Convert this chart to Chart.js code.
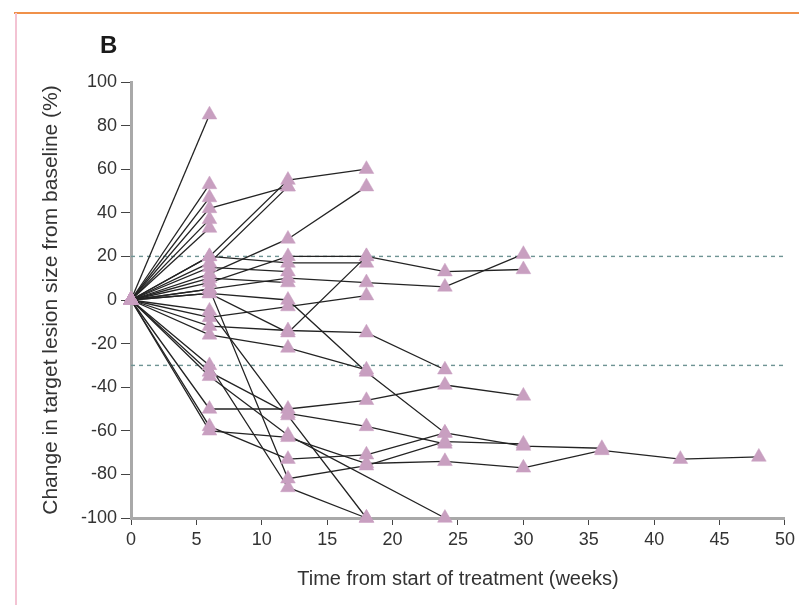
<!DOCTYPE html>
<html>
<head>
<meta charset="utf-8">
<script src="https://cdn.jsdelivr.net/npm/chart.js@4.4.1/dist/chart.umd.min.js"></script>
<style>
  html, body { margin: 0; padding: 0; background: #ffffff; }
  #wrap { position: relative; width: 799px; height: 605px; overflow: hidden; background: #fff; }
  #chart { position: absolute; left: 0; top: 0; }
  #topline { position: absolute; left: 14px; top: 12px; width: 785px; height: 2px; background: #f0914a; }
  #leftline { position: absolute; left: 15px; top: 13px; width: 2px; height: 592px; background: #f3c3d3; }
  #panel { position: absolute; left: 100px; top: 31px; font: bold 24px "Liberation Sans", Arial, sans-serif; color: #1a1a1a; }
</style>
</head>
<body>
<div id="wrap">
  <div id="topline"></div>
  <div id="leftline"></div>
  <canvas id="chart" width="799" height="605"></canvas>
  <div id="panel">B</div>
</div>
<script>
// Assessment weeks (x positions of consecutive values in each patient's series)
const weeks = [0, 6, 12, 18, 24, 30, 36, 42, 48];

// Change in target lesion size (%) per patient, one value per assessment week
const p01 = [0, 85];
const p02 = [0, 53];
const p03 = [0, 47];
const p04 = [0, 42, 52];
const p05 = [0, 37];
const p06 = [0, 33];
const p07 = [0, 20, 55, 60];
const p08 = [0, 17, 52];
const p09 = [0, 12, 28, 52];
const p10 = [0, 8, 20, 20, 13, 14];
const p11 = [0, 5, 10, 8, 6, 21];
const p12 = [0, 20, 17, 17];
const p13 = [0, -8, -3, 2];
const p14 = [0, 3, -15, 20];
const p15 = [0, -12, -14, -15, -32];
const p16 = [0, 3, 0, -33, -61, -67, -68];
const p17 = [0, -16, -22, -32];
const p18 = [0, -33, -52, -58, -66];
const p19 = [0, -50, -50, -46, -39, -44];
const p20 = [0, -60, -63, -75, -74, -77, -69, -73, -72];
const p21 = [0, -30, -86, -100];
const p22 = [0, -5, -53, -100];
const p23 = [0, 5, -82, -76, -65, -66];
const p24 = [0, -58, -73, -71, -61];
const p25 = [0, -35, -62, null, -100];
const p26 = [0, 10, 8];
const p27 = [0, 15, 13];

const patients = [p01, p02, p03, p04, p05, p06, p07, p08, p09, p10, p11, p12, p13, p14,
                  p15, p16, p17, p18, p19, p20, p21, p22, p23, p24, p25, p26, p27];

// Response thresholds (dashed reference lines)
const thresholds = [20, -30];

// Axis tick values
const xTickValues = [0, 5, 10, 15, 20, 25, 30, 35, 40, 45, 50];
const yTickValues = [-100, -80, -60, -40, -20, 0, 20, 40, 60, 80, 100];

const toPoints = vals => vals.map((v, i) => ({ x: weeks[i], y: v }));

const FONT = '"Liberation Sans", Arial, sans-serif';
const lineColor = '#232323';
const markerColor = '#c89fc0';

const datasets = [];

// markers on top (order 0)
datasets.push({
  label: 'assessments',
  data: patients.flatMap(p => toPoints(p).filter(pt => pt.y !== null)),
  showLine: false,
  pointStyle: 'triangle',
  pointRadius: 8.5,
  pointHoverRadius: 8.5,
  pointBackgroundColor: markerColor,
  pointBorderColor: markerColor,
  pointBorderWidth: 0.5,
  clip: false,
  order: 0
});

patients.forEach((p, i) => {
  datasets.push({
    label: 'patient ' + (i + 1),
    data: toPoints(p),
    showLine: true,
    spanGaps: true,
    borderColor: lineColor,
    borderWidth: 1.3,
    pointRadius: 0,
    pointHoverRadius: 0,
    tension: 0,
    clip: false,
    order: 1
  });
});

thresholds.forEach(t => {
  datasets.push({
    label: 'threshold ' + t,
    data: [{ x: xTickValues[0], y: t }, { x: xTickValues[xTickValues.length - 1], y: t }],
    showLine: true,
    borderColor: '#6f9494',
    borderWidth: 1.4,
    borderDash: [4, 4],
    pointRadius: 0,
    pointHoverRadius: 0,
    order: 2
  });
});

new Chart(document.getElementById('chart'), {
  type: 'scatter',
  data: { datasets },
  options: {
    responsive: false,
    devicePixelRatio: 1,
    animation: false,
    events: [],
    layout: { padding: { left: 28, right: 11, top: 82, bottom: 0 } },
    plugins: { legend: { display: false }, tooltip: { enabled: false }, title: { display: false } },
    scales: {
      x: {
        type: 'linear',
        min: 0, max: 50,
        afterBuildTicks: s => { s.ticks = xTickValues.map(v => ({ value: v })); },
        afterFit: s => { s.height = 87; },
        grid: { display: true, drawOnChartArea: false, drawTicks: true, tickLength: 7, tickColor: '#444', tickWidth: 1 },
        border: { display: true, color: '#a9a9a9', width: 3 },
        ticks: { color: '#333', font: { family: FONT, size: 18 }, padding: 4, maxRotation: 0, autoSkip: false },
        title: { display: true, text: 'Time from start of treatment (weeks)', color: '#333',
                 font: { family: FONT, size: 20 }, padding: { top: 0, bottom: 14 } }
      },
      y: {
        type: 'linear',
        min: -100, max: 100,
        afterBuildTicks: s => { s.ticks = yTickValues.map(v => ({ value: v })); },
        afterFit: s => { s.width = 103; },
        grid: { display: true, drawOnChartArea: false, drawTicks: true, tickLength: 10, tickColor: '#444', tickWidth: 1 },
        border: { display: true, color: '#a9a9a9', width: 3 },
        ticks: { color: '#333', font: { family: FONT, size: 18 }, padding: 4, autoSkip: false },
        title: { display: true, text: 'Change in target lesion size from baseline (%)', color: '#333',
                 font: { family: FONT, size: 21 }, padding: { top: 11, bottom: 0 } }
      }
    }
  }
});
</script>
</body>
</html>
